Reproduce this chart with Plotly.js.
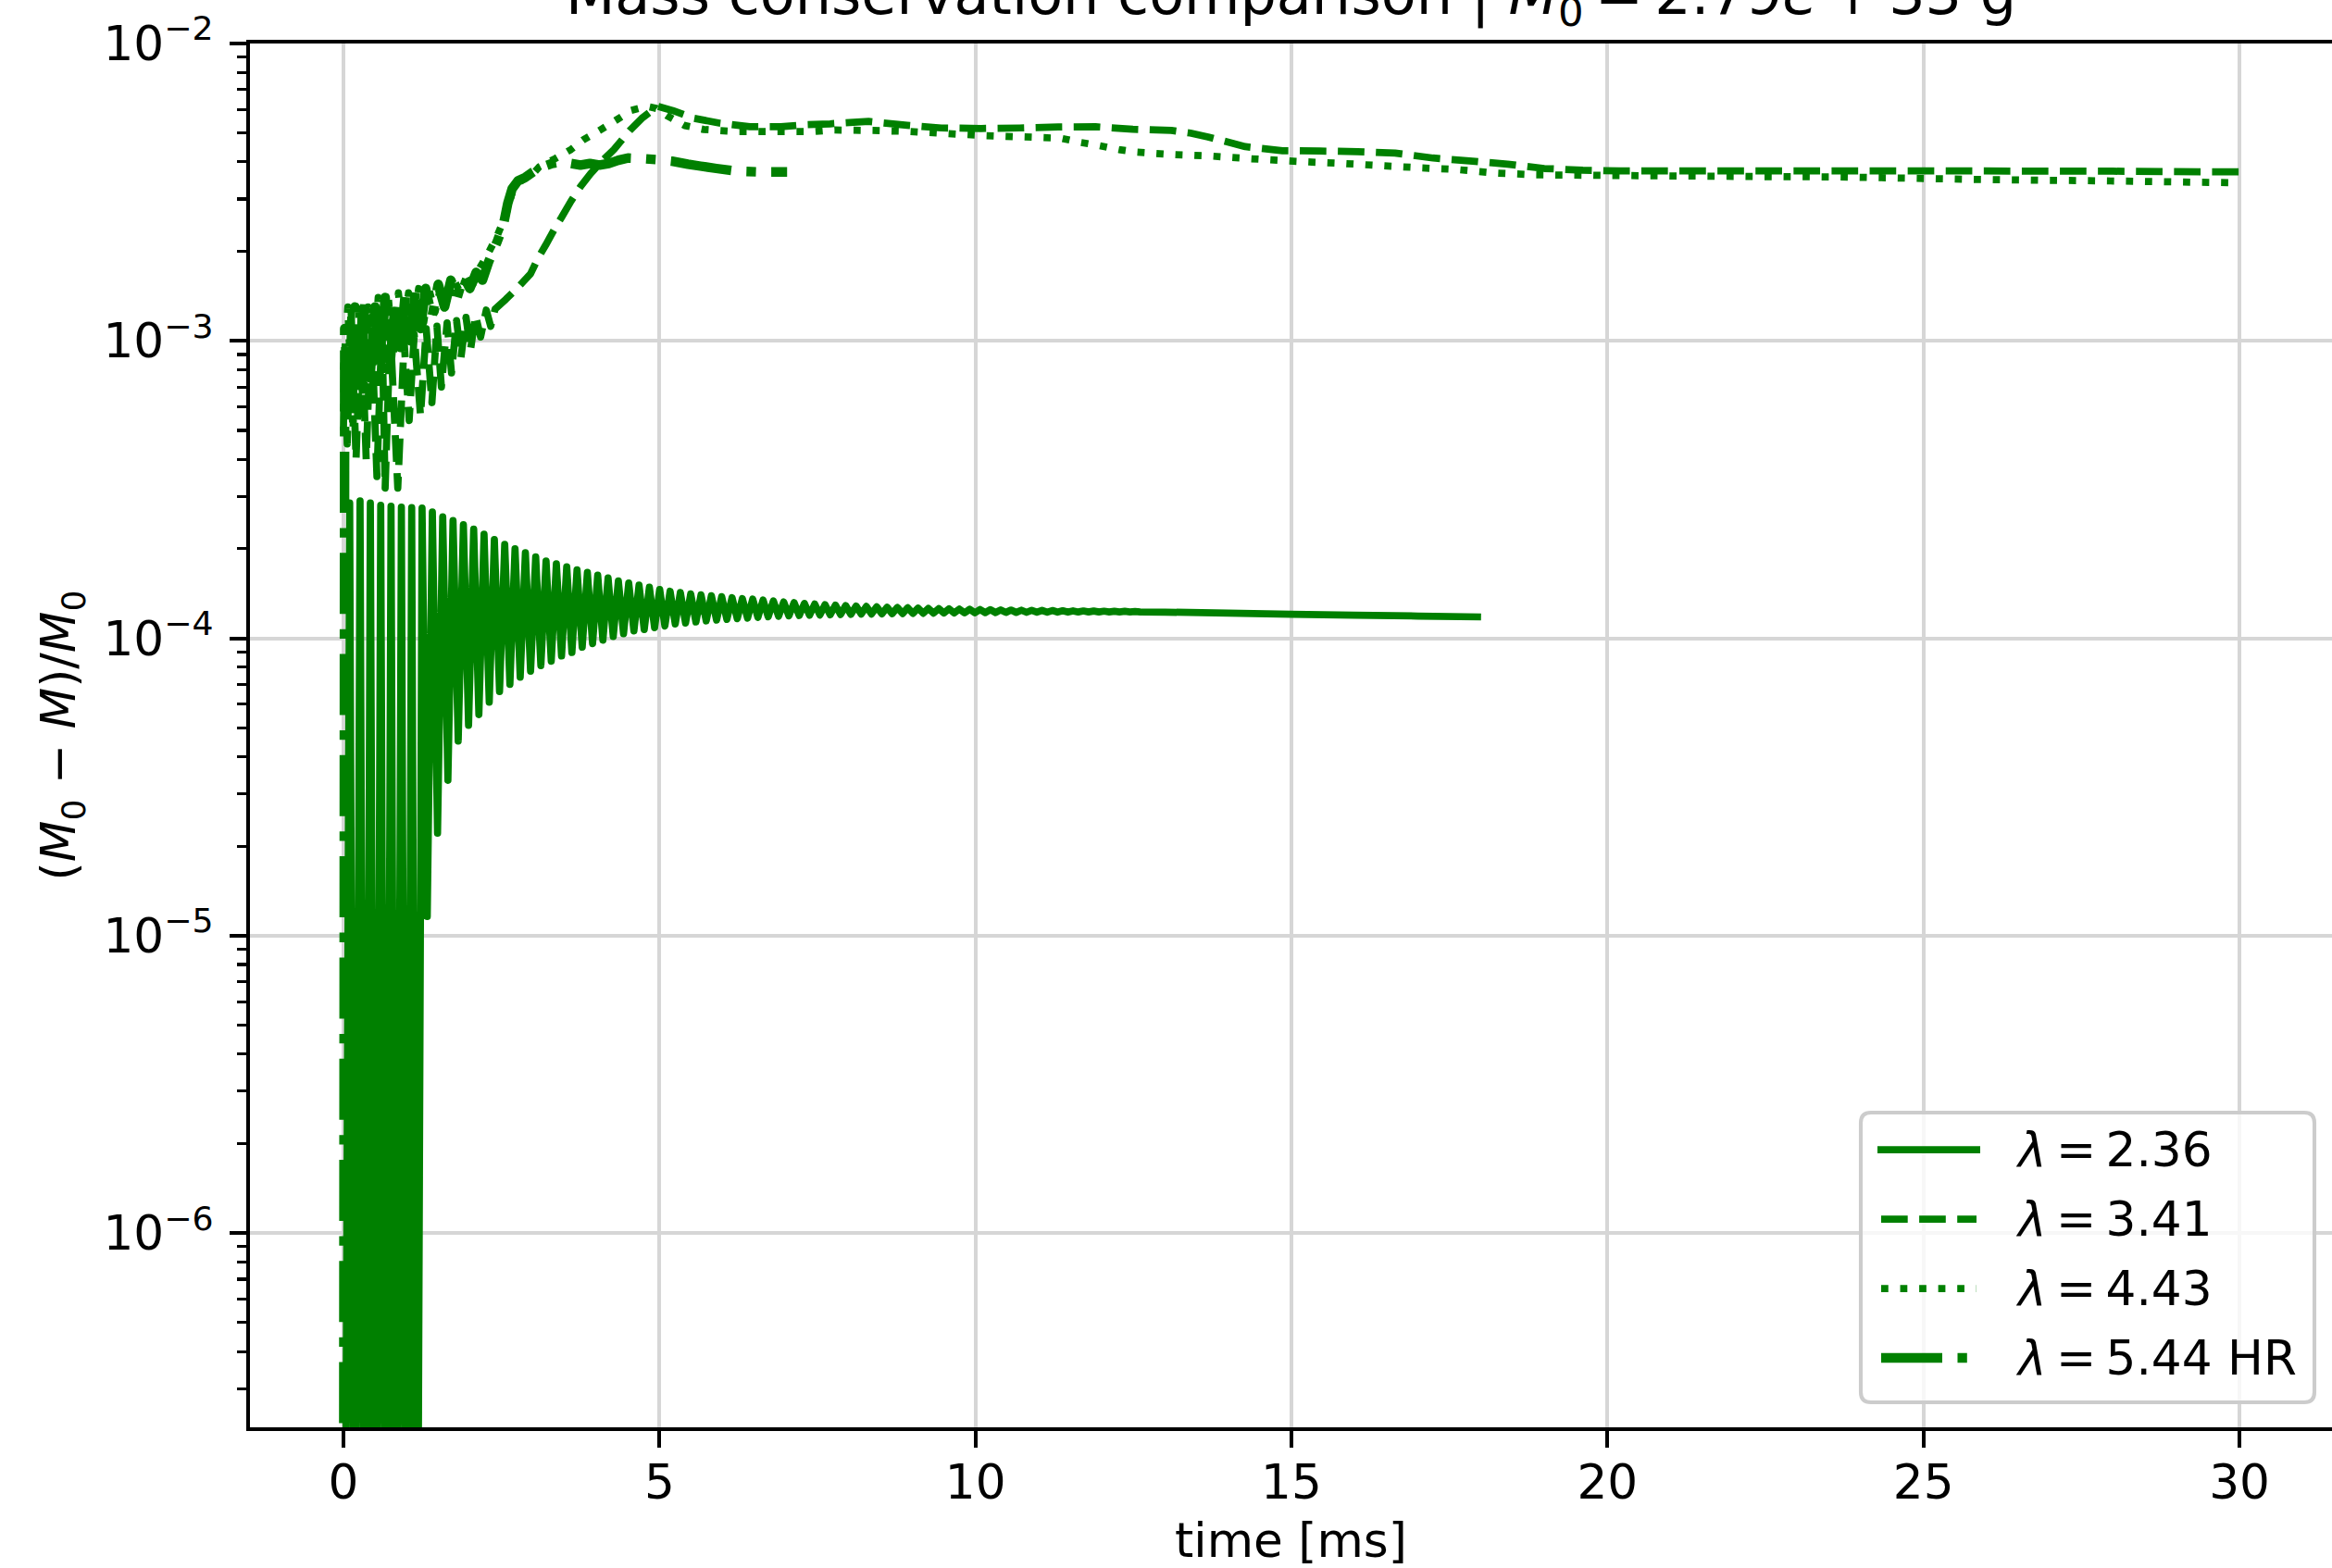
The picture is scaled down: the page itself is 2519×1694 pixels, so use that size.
<!DOCTYPE html>
<html>
<head>
<meta charset="utf-8">
<script src="https://cdn.plot.ly/plotly-3.0.1.min.js"></script>
<style>
html,body{margin:0;padding:0;background:#fff;}
#chart{width:2519px;height:1694px;}
.scatterlayer .js-line{stroke-linejoin:round;}
</style>
</head>
<body>
<div id="chart"></div>
<script>
// ---------------- data ----------------
// time in ms, y = (M0 - M)/M0 ; values of 1e-8 stand for "below the axis floor" (≈0)

// λ = 2.36 : fast oscillation, listed as successive minima / maxima
var solidTroughT = [0.017,0.181,0.345,0.508,0.672,0.835,0.999,1.162,1.326,1.489,1.653,1.816,1.980,2.143,2.307,2.470,2.634,2.797,2.961,3.124,3.288,3.451,3.615,3.778,3.942,4.105,4.269,4.432,4.596,4.759,4.923,5.086,5.250,5.413,5.577,5.740,5.904,6.067,6.231,6.394,6.558,6.721,6.885,7.048,7.212,7.375,7.539,7.702,7.866,8.029,8.193,8.356,8.520,8.683,8.847,9.010,9.174,9.337,9.501,9.664,9.828,9.991,10.155,10.318,10.482,10.645,10.809,10.972,11.136,11.299,11.463,11.626,11.790,11.953,12.117,12.280,12.444,12.607];
var solidTroughY = [1e-8,1e-8,1e-8,1e-8,1e-8,1e-8,1e-8,1e-8,
  1.16e-5,2.21e-5,3.33e-5,4.51e-5,5.1e-5,5.54e-5,6.1e-5,6.62e-5,7.0e-5,7.4e-5,
  7.75e-5,8.09e-5,8.37e-5,8.72e-5,8.96e-5,9.34e-5,9.6e-5,9.86e-5,1.014e-4,1.036e-4,
  1.059e-4,1.07e-4,1.086e-4,1.10e-4,1.117e-4,1.125e-4,1.135e-4,1.145e-4,1.152e-4,1.158e-4,
  1.164e-4,1.17e-4,1.176e-4,1.181e-4,1.186e-4,1.19e-4,1.193e-4,1.196e-4,1.198e-4,1.2e-4,
  1.202e-4,1.204e-4,1.206e-4,1.207e-4,1.209e-4,1.21e-4,1.212e-4,1.213e-4,1.214e-4,1.215e-4,
  1.216e-4,1.217e-4,1.218e-4,1.219e-4,1.22e-4,1.221e-4,1.222e-4,1.222e-4,1.223e-4,1.224e-4,
  1.224e-4,1.225e-4,1.225e-4,1.226e-4,1.226e-4,1.226e-4,1.227e-4,1.227e-4,1.227e-4,1.227e-4];
var solidPeakT = [0.099,0.263,0.426,0.590,0.753,0.917,1.080,1.244,1.407,1.571,1.734,1.898,2.061,2.225,2.388,2.552,2.715,2.879,3.042,3.206,3.369,3.533,3.696,3.860,4.023,4.187,4.350,4.514,4.677,4.841,5.004,5.168,5.331,5.495,5.658,5.822,5.985,6.149,6.312,6.476,6.639,6.803,6.966,7.130,7.293,7.457,7.620,7.784,7.947,8.111,8.274,8.438,8.601,8.765,8.928,9.092,9.255,9.419,9.582,9.746,9.909,10.073,10.236,10.400,10.563,10.727,10.890,11.054,11.217,11.381,11.544,11.708,11.871,12.035,12.198,12.362,12.525];
var solidPeakY = [2.85e-4,2.9e-4,2.85e-4,2.8e-4,2.78e-4,2.76e-4,2.75e-4,2.74e-4,2.66e-4,2.56e-4,
  2.49e-4,2.41e-4,2.33e-4,2.24e-4,2.15e-4,2.07e-4,2.0e-4,1.94e-4,1.88e-4,1.82e-4,
  1.78e-4,1.74e-4,1.70e-4,1.665e-4,1.63e-4,1.595e-4,1.56e-4,1.535e-4,1.51e-4,1.485e-4,
  1.46e-4,1.44e-4,1.425e-4,1.41e-4,1.40e-4,1.39e-4,1.38e-4,1.37e-4,1.36e-4,1.355e-4,
  1.345e-4,1.335e-4,1.325e-4,1.318e-4,1.31e-4,1.304e-4,1.298e-4,1.293e-4,1.288e-4,1.284e-4,
  1.28e-4,1.276e-4,1.272e-4,1.269e-4,1.266e-4,1.263e-4,1.26e-4,1.258e-4,1.256e-4,1.254e-4,
  1.252e-4,1.25e-4,1.248e-4,1.246e-4,1.245e-4,1.243e-4,1.242e-4,1.241e-4,1.24e-4,1.238e-4,
  1.237e-4,1.236e-4,1.235e-4,1.234e-4,1.233e-4,1.232e-4,1.231e-4];
var solidTailT = [13.0,14.0,15.0,16.0,17.0,18.0];
var solidTailY = [1.225e-4,1.215e-4,1.205e-4,1.196e-4,1.188e-4,1.18e-4];

// λ = 3.41
var dashedT = [0.0,0.015,0.06,0.12,0.20,0.28,0.36,0.44,0.53,0.61,0.66,0.74,0.86,0.96,1.04,1.12,1.22,1.31,1.40,1.48,1.55,1.64,1.71,1.79,1.86,1.94,2.01,2.09,2.17,2.26,2.33,2.40,2.57,2.77,2.96,3.08,3.20,3.35,3.45,3.60,3.75,3.91,4.08,4.28,4.53,4.72,4.97,5.21,5.55,5.95,6.43,6.92,7.30,7.70,8.31,8.92,9.46,10.09,10.70,11.31,11.90,12.49,13.10,13.40,13.68,14.27,14.86,15.45,16.05,16.64,17.24,17.82,18.42,19.00,19.61,20.20,22.00,25.00,28.00,30.00];
var dashedY = [5e-4,9e-4,4.5e-4,1.3e-3,4e-4,1.25e-3,4e-4,1.2e-3,3.5e-4,1.15e-3,
  3.2e-4,1.1e-3,3.2e-4,1.0e-3,5.4e-4,1.05e-3,5.6e-4,1.1e-3,6.2e-4,1.12e-3,
  7e-4,1.15e-3,7.8e-4,1.17e-3,8.8e-4,1.2e-3,9.3e-4,1.22e-3,1.03e-3,1.27e-3,
  1.12e-3,1.28e-3,1.38e-3,1.52e-3,1.68e-3,1.9e-3,2.1e-3,2.4e-3,2.6e-3,2.95e-3,
  3.3e-3,3.65e-3,4.0e-3,4.4e-3,5.1e-3,5.6e-3,6.15e-3,5.95e-3,5.6e-3,5.4e-3,
  5.25e-3,5.25e-3,5.33e-3,5.37e-3,5.47e-3,5.31e-3,5.2e-3,5.18e-3,5.2e-3,5.24e-3,
  5.25e-3,5.15e-3,5.1e-3,5.0e-3,4.85e-3,4.5e-3,4.36e-3,4.35e-3,4.33e-3,4.28e-3,
  4.12e-3,4.03e-3,3.93e-3,3.8e-3,3.75e-3,3.73e-3,3.73e-3,3.73e-3,3.72e-3,3.7e-3];

// λ = 4.43
var dottedT = [0.00,0.07,0.15,0.23,0.31,0.39,0.47,0.55,0.63,0.71,0.79,0.87,0.95,1.03,1.11,1.19,1.27,1.35,1.45,1.55,1.65,1.75,1.85,1.95,2.05,2.15,2.28,2.43,2.57,2.67,2.81,3.00,3.10,3.35,3.60,3.80,4.05,4.30,4.55,4.80,4.95,5.13,5.40,5.70,6.20,7.00,7.46,7.77,8.38,8.97,9.55,10.17,10.78,11.36,11.66,11.95,12.27,12.56,13.15,13.76,14.34,14.93,15.24,15.83,16.44,17.03,17.61,18.22,18.83,20.00,22.40,23.67,25.86,27.96,30.00];
var dottedY = [8e-4,1.3e-3,5e-4,1.35e-3,6e-4,1.3e-3,7e-4,1.4e-3,8e-4,1.4e-3,
  9e-4,1.45e-3,1e-3,1.45e-3,1.1e-3,1.5e-3,1.15e-3,1.5e-3,1.25e-3,1.55e-3,
  1.35e-3,1.6e-3,1.45e-3,1.65e-3,1.55e-3,1.75e-3,1.95e-3,2.25e-3,2.65e-3,3.15e-3,
  3.45e-3,3.65e-3,3.85e-3,4.1e-3,4.4e-3,4.75e-3,5.1e-3,5.5e-3,5.95e-3,6.15e-3,
  6.05e-3,5.7e-3,5.3e-3,5.14e-3,5.06e-3,5.06e-3,5.06e-3,5.12e-3,5.1e-3,5.06e-3,
  4.98e-3,4.9e-3,4.85e-3,4.8e-3,4.65e-3,4.54e-3,4.4e-3,4.31e-3,4.23e-3,4.18e-3,
  4.1e-3,4.03e-3,4.0e-3,3.95e-3,3.88e-3,3.82e-3,3.77e-3,3.67e-3,3.62e-3,3.6e-3,
  3.57e-3,3.56e-3,3.49e-3,3.45e-3,3.4e-3];

// λ = 5.44 HR
var hrT = [0.0,0.02,0.10,0.18,0.26,0.34,0.42,0.50,0.58,0.66,0.74,0.82,0.90,0.98,1.06,1.14,1.22,1.30,1.40,1.50,1.60,1.70,1.80,1.90,2.00,2.10,2.20,2.30,2.43,2.53,2.60,2.67,2.76,2.88,3.00,3.15,3.30,3.45,3.60,3.75,3.90,4.05,4.20,4.35,4.50,4.72,4.95,5.20,5.45,5.65,5.90,6.24,6.60,7.02];
var hrY = [1e-8,1.1e-3,5.5e-4,1.3e-3,6.5e-4,1.35e-3,7.5e-4,1.3e-3,8e-4,1.4e-3,
  8.5e-4,1.35e-3,9.5e-4,1.45e-3,1.0e-3,1.5e-3,1.1e-3,1.5e-3,1.2e-3,1.55e-3,
  1.3e-3,1.6e-3,1.4e-3,1.65e-3,1.5e-3,1.7e-3,1.6e-3,1.85e-3,2.15e-3,2.45e-3,
  2.9e-3,3.25e-3,3.45e-3,3.55e-3,3.7e-3,3.85e-3,3.95e-3,4.0e-3,3.95e-3,3.9e-3,
  3.95e-3,3.9e-3,3.95e-3,4.05e-3,4.12e-3,4.1e-3,4.07e-3,4.02e-3,3.93e-3,3.87e-3,
  3.8e-3,3.72e-3,3.7e-3,3.7e-3];

var SP = '\u2009'; // math spacing around relations/operators
var seriesLabels = ['<i>λ</i>' + SP + '=' + SP + '2.36', '<i>λ</i>' + SP + '=' + SP + '3.41',
                    '<i>λ</i>' + SP + '=' + SP + '4.43', '<i>λ</i>' + SP + '=' + SP + '5.44 HR'];
var xTickVals = [0,5,10,15,20,25,30];
var yTickVals = [1e-6,1e-5,1e-4,1e-3,1e-2];
var yTickText = ['10<sup>−6</sup>','10<sup>−5</sup>','10<sup>−4</sup>','10<sup>−3</sup>','10<sup>−2</sup>'];
var titleText = 'Mass conservation comparison | <i>M</i><sub>0</sub>' + SP + '=' + SP + '2.79<i>e</i>' + SP + '+' + SP + '33 g';
var xTitle = 'time [ms]';
var yTitle = '(<i>M</i><sub>0</sub> − <i>M</i>)/<i>M</i><sub>0</sub>';

// ---------------- build the solid series (interleave minima and maxima) ----------------
var solidT = [], solidY = [];
for (var i = 0; i < solidTroughT.length; i++) {
  solidT.push(solidTroughT[i]); solidY.push(solidTroughY[i]);
  if (i < solidPeakT.length) { solidT.push(solidPeakT[i]); solidY.push(solidPeakY[i]); }
}
solidT = solidT.concat(solidTailT); solidY = solidY.concat(solidTailY);

// ---------------- styling ----------------
var GREEN = '#008000';
var FONT = 'DejaVu Sans, Liberation Sans, sans-serif';
var FS = 51.7;
var LW = 7.75, LW_HR = 10.3;
var DASH = '28.7px,12.4px';
var DOT = '7.75px,12.8px';
var DASHDOT = '66px,16.5px,10.3px,16.5px';

var W = 2519, H = 1694;
var L = 270, T = 47, PW = 2249, PH = 1495;
function fx(p){ return (p - L) / PW; }
function fy(p){ return (T + PH - p) / PH; }

var traces = [
  {x: solidT, y: solidY, mode:'lines', name: seriesLabels[0], showlegend:false,
   line:{color:GREEN, width:LW, simplify:false}},
  {x: dashedT, y: dashedY, mode:'lines', name: seriesLabels[1], showlegend:false,
   line:{color:GREEN, width:LW, dash:DASH, simplify:false}},
  {x: dottedT, y: dottedY, mode:'lines', name: seriesLabels[2], showlegend:false,
   line:{color:GREEN, width:LW, dash:DOT, simplify:false}},
  {x: hrT, y: hrY, mode:'lines', name: seriesLabels[3], showlegend:false,
   line:{color:GREEN, width:LW_HR, dash:DASHDOT, simplify:false}}
];

// minor tick positions for the log axis
var minorVals = [];
for (var d = -7; d <= -3; d++) for (var m = 2; m <= 9; m++) minorVals.push(m * Math.pow(10, d));

// legend drawn as box + sample lines + labels
var bx0 = fx(2010), bx1 = fx(2500), by0 = fy(1515), by1 = fy(1202);
var rx = 11 / PW, ry = 11 / PH;
var boxPath = 'M' + (bx0+rx) + ',' + by1 + ' L' + (bx1-rx) + ',' + by1 +
  ' Q' + bx1 + ',' + by1 + ' ' + bx1 + ',' + (by1-ry) +
  ' L' + bx1 + ',' + (by0+ry) + ' Q' + bx1 + ',' + by0 + ' ' + (bx1-rx) + ',' + by0 +
  ' L' + (bx0+rx) + ',' + by0 + ' Q' + bx0 + ',' + by0 + ' ' + bx0 + ',' + (by0+ry) +
  ' L' + bx0 + ',' + (by1-ry) + ' Q' + bx0 + ',' + by1 + ' ' + (bx0+rx) + ',' + by1 + ' Z';
var rows = [1242, 1317, 1392, 1467];
var sampleDash = ['solid', DASH, DOT, DASHDOT];
var sampleW = [LW, LW, LW, LW_HR];
var shapes = [{type:'path', xref:'paper', yref:'paper', path: boxPath,
  fillcolor:'rgba(255,255,255,0.8)', line:{color:'#cccccc', width:4.1}, layer:'above'}];
var annotations = [];
for (var k = 0; k < 4; k++) {
  var x0 = (k === 0) ? 2028 : 2032, x1 = (k === 0) ? 2139 : 2135;
  shapes.push({type:'line', xref:'paper', yref:'paper', x0: fx(x0), x1: fx(x1), y0: fy(rows[k]), y1: fy(rows[k]),
    line:{color:GREEN, width:sampleW[k], dash:sampleDash[k]}, layer:'above'});
  annotations.push({xref:'paper', yref:'paper', x: fx(2175), y: fy(rows[k]), xanchor:'left', yanchor:'middle',
    text: seriesLabels[k], showarrow:false, font:{family:FONT, size:FS, color:'#000'}});
}

var layout = {
  width: W, height: H,
  margin: {l:L, r:0, t:T, b:H - T - PH, pad:0},
  paper_bgcolor:'#ffffff', plot_bgcolor:'#ffffff',
  font:{family:FONT, size:FS, color:'#000'},
  showlegend:false,
  title:{text:titleText, font:{family:FONT, size:62, color:'#000'},
    x:0.5, xref:'paper', xanchor:'center', y:1, yref:'paper', yanchor:'bottom', pad:{b:32, t:0, l:0, r:0}},
  xaxis:{range:[-1.479, 31.464], tickvals:xTickVals, ticktext:xTickVals.map(String),
    ticks:'outside', ticklen:18, tickwidth:4.1, tickcolor:'#000',
    showline:true, linecolor:'#000', linewidth:4.1, mirror:true,
    showgrid:true, gridcolor:'#d6d6d6', gridwidth:4.1, zeroline:false, automargin:false,
    ticklabelstandoff:-7, tickfont:{family:FONT, size:FS, color:'#000'},
    title:{text:xTitle, font:{family:FONT, size:FS, color:'#000'}, standoff:45}},
  yaxis:{type:'log', range:[-6.653, -2], tickvals:yTickVals, ticktext:yTickText,
    ticks:'outside', ticklen:18, tickwidth:4.1, tickcolor:'#000',
    minor:{tickvals:minorVals, ticks:'outside', ticklen:10.3, tickwidth:3.1, tickcolor:'#000', showgrid:false},
    showline:true, linecolor:'#000', linewidth:4.1, mirror:false,
    showgrid:true, gridcolor:'#d6d6d6', gridwidth:4.1, zeroline:false, automargin:false,
    ticklabelstandoff:7, tickfont:{family:FONT, size:FS, color:'#000'},
    title:{text:yTitle, font:{family:FONT, size:FS, color:'#000'}, standoff:14}},
  shapes: shapes,
  annotations: annotations
};

Plotly.newPlot('chart', traces, layout, {staticPlot:true, displayModeBar:false});
</script>
</body>
</html>
